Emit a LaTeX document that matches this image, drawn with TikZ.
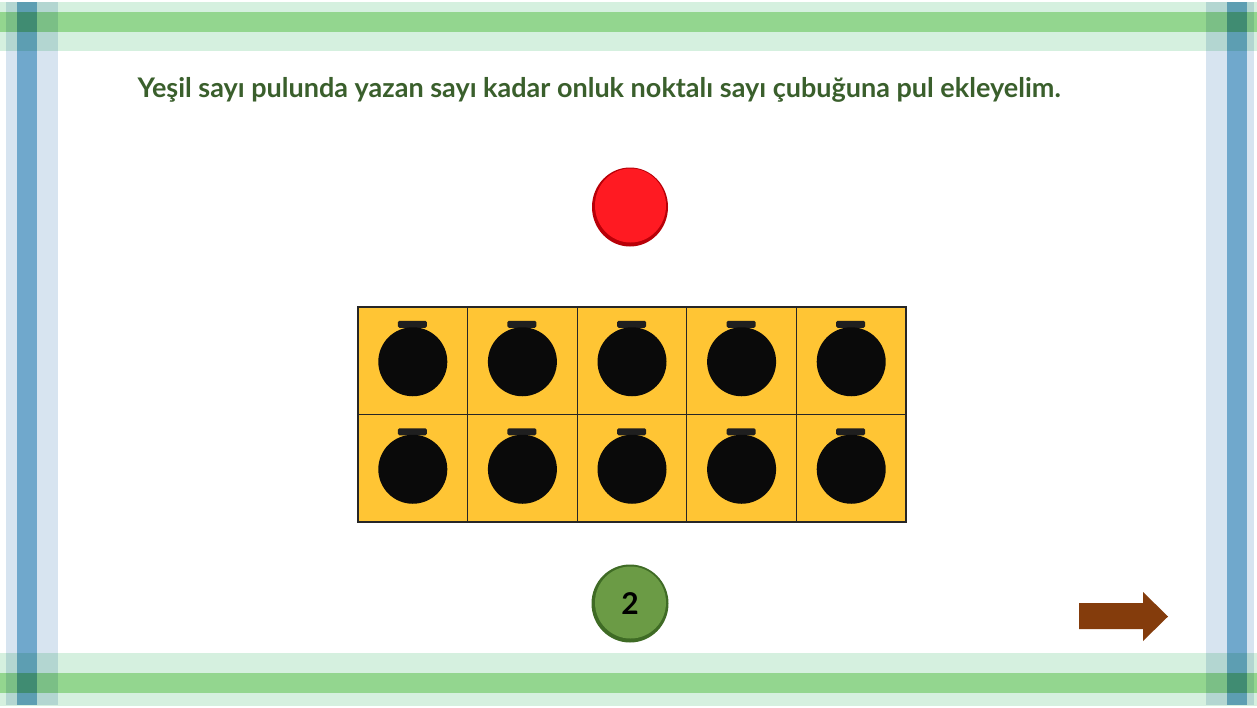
\documentclass[tikz,border=0pt]{standalone}
\usepackage{fontspec}
\setmainfont{Lato}
\usetikzlibrary{calc}
\definecolor{lgreen}{HTML}{D5F0DF}
\definecolor{dgreen}{HTML}{93D68F}
\definecolor{lblue}{HTML}{D7E4F0}
\definecolor{dblue}{HTML}{70A8CC}
\definecolor{titlegreen}{HTML}{3A5F2C}
\definecolor{gold}{HTML}{FFC534}
\definecolor{chipred}{HTML}{FF1A22}
\definecolor{chipredd}{HTML}{B80008}
\definecolor{chipgreen}{HTML}{6B9B45}
\definecolor{chipgreend}{HTML}{3F6B25}
\definecolor{arrowbrown}{HTML}{843C0C}
\tikzset{
  band/.style={draw=none,blend mode=multiply},
  cell/.style={draw=black!85,line width=1.3pt,fill=gold,minimum width=109.6pt,minimum height=107.5pt,inner sep=0pt,outer sep=0pt},
  dot/.style={fill=black!96,draw=none},
  tab/.style={fill=black!88,draw=none,rounded corners=1.5pt},
}
\begin{document}
\begin{tikzpicture}[x=1pt,y=-1pt]
\useasboundingbox (0,0) rectangle (1257,707);
\fill[white] (0,0) rectangle (1257,707);
% horizontal bands
\fill[band,lgreen] (0,2) rectangle (1257,12);
\fill[band,dgreen] (0,12) rectangle (1257,32);
\fill[band,lgreen] (0,32) rectangle (1257,51);
\fill[band,lgreen] (0,653) rectangle (1257,673);
\fill[band,dgreen] (0,673) rectangle (1257,693);
\fill[band,lgreen] (0,693) rectangle (1257,706);
% vertical bands
\fill[band,lblue] (6,2) rectangle (17,705);
\fill[band,dblue] (17,2) rectangle (37,705);
\fill[band,lblue] (37,2) rectangle (58,705);
\fill[band,lblue] (1206,2) rectangle (1227,705);
\fill[band,dblue] (1227,2) rectangle (1247,705);
\fill[band,lblue] (1247,2) rectangle (1254,705);
% title
\node[font=\bfseries\fontsize{27}{31}\selectfont,text=titlegreen,anchor=center] (title) at (599,90)
  {Yeşil sayı pulunda yazan sayı kadar onluk noktalı sayı çubuğuna pul ekleyelim.};
% red chip
\fill[chipredd] (630,207) ellipse [x radius=38, y radius=39.5];
\fill[chipred] (630.5,205.5) ellipse [x radius=35.5, y radius=37];
\node[circle,minimum size=76pt,inner sep=0pt] (red) at (630,206) {};
% ten frame
\foreach \r in {0,1}{
  \foreach \c in {0,...,4}{
    \pgfmathsetmacro{\cx}{358+54.8+109.6*\c}
    \pgfmathsetmacro{\cy}{307+53.75+107.5*\r}
    \node[cell] (cell-\r-\c) at (\cx,\cy) {};
    \fill[tab] ($(\cx,\cy)+(-15,-40)$) rectangle ($(\cx,\cy)+(14,-33)$);
    \fill[dot] ($(\cx,\cy)+(0,1)$) circle [radius=34.5];
  }
}
\draw[black!85,line width=1.5pt] (358,307) rectangle (906,522);
% green chip
\fill[chipgreend] (630,603.5) ellipse [x radius=38.5, y radius=39];
\fill[chipgreen] (630.5,602.5) ellipse [x radius=35.5, y radius=36];
\node[font=\bfseries\fontsize{30}{32}\selectfont,text=black] (green) at (630,604) {2};
% arrow
\fill[arrowbrown] (1079,603) -- (1143,603) -- (1143,592) -- (1168,616.5) -- (1143,641) -- (1143,629) -- (1079,629) -- cycle;
\coordinate (arrowtip) at (1168,616.5);
\end{tikzpicture}
\end{document}
